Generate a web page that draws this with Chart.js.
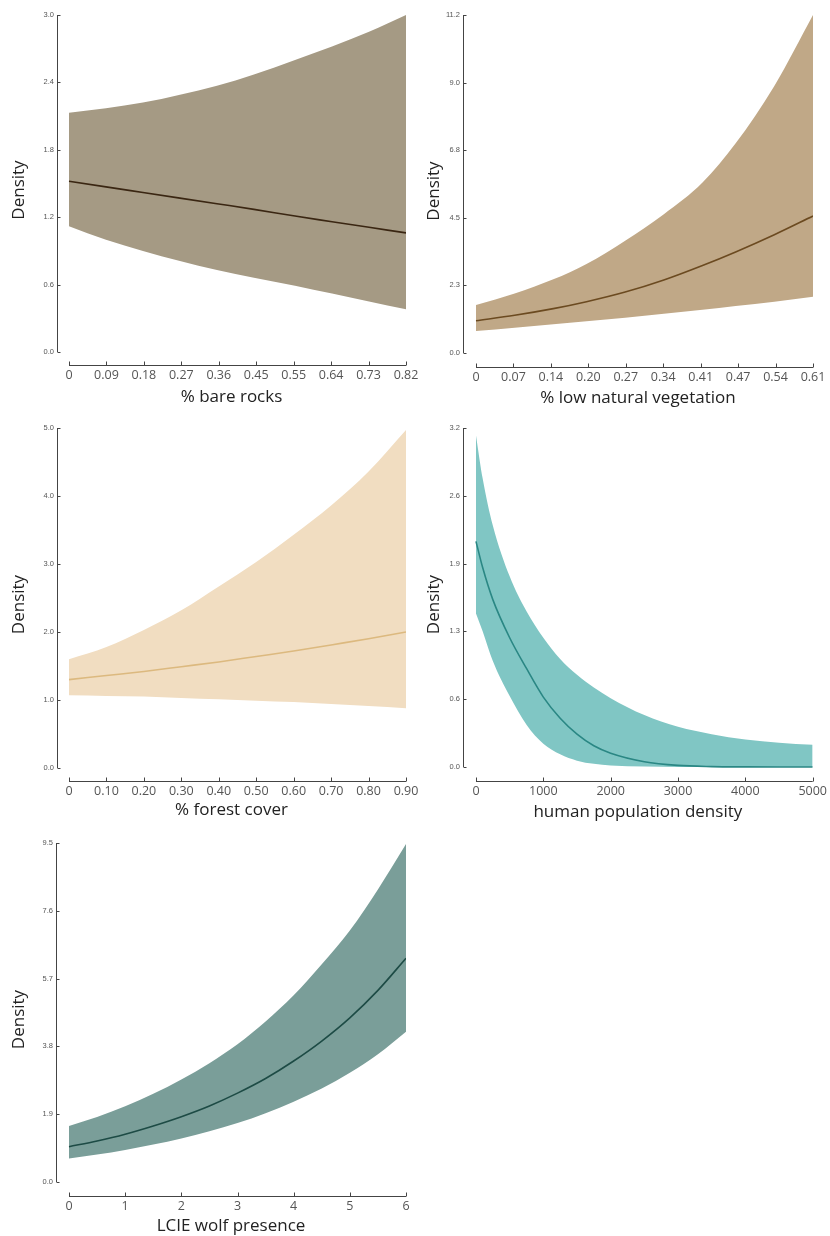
<!DOCTYPE html>
<html>
<head>
<meta charset="utf-8">
<script src="https://cdn.jsdelivr.net/npm/chart.js@4"></script>
<style>
  body { margin: 0; background: #fff; }
  #wrap { position: relative; width: 830px; height: 1236px; overflow: hidden; }
  .panel { position: absolute; }
</style>
</head>
<body>
<div id="wrap">
  <div class="panel" id="p1"><canvas id="c1"></canvas></div>
  <div class="panel" id="p2"><canvas id="c2"></canvas></div>
  <div class="panel" id="p3"><canvas id="c3"></canvas></div>
  <div class="panel" id="p4"><canvas id="c4"></canvas></div>
  <div class="panel" id="p5"><canvas id="c5"></canvas></div>
</div>
<script>
// --- data ---
const rockX = [0, 0.09, 0.18, 0.27, 0.36, 0.45, 0.55, 0.64, 0.73, 0.82];
const rockMean = [1.52, 1.47, 1.42, 1.37, 1.32, 1.27, 1.21, 1.16, 1.11, 1.06];
const rockUpper = [2.13, 2.17, 2.22, 2.29, 2.37, 2.47, 2.60, 2.72, 2.85, 3.0];
const rockLower = [1.12, 1.00, 0.90, 0.81, 0.73, 0.66, 0.59, 0.52, 0.45, 0.38];
const rockXTicks = ['0', '0.09', '0.18', '0.27', '0.36', '0.45', '0.55', '0.64', '0.73', '0.82'];
const rockYTicks = ['0.0', '0.6', '1.2', '1.8', '2.4', '3.0'];

const vegX = [0, 0.07, 0.14, 0.20, 0.27, 0.34, 0.41, 0.47, 0.54, 0.61];
const vegMean = [1.07, 1.25, 1.47, 1.70, 2.02, 2.42, 2.90, 3.35, 3.92, 4.54];
const vegUpper = [1.59, 1.97, 2.44, 2.95, 3.72, 4.60, 5.65, 6.95, 8.85, 11.2];
const vegLower = [0.73, 0.84, 0.95, 1.05, 1.17, 1.30, 1.43, 1.56, 1.70, 1.86];
const vegXTicks = ['0', '0.07', '0.14', '0.20', '0.27', '0.34', '0.41', '0.47', '0.54', '0.61'];
const vegYTicks = ['0.0', '2.3', '4.5', '6.8', '9.0', '11.2'];

const forestX = [0, 0.1, 0.2, 0.3, 0.4, 0.5, 0.6, 0.7, 0.8, 0.9];
const forestMean = [1.30, 1.36, 1.42, 1.49, 1.56, 1.64, 1.72, 1.81, 1.90, 2.0];
const forestUpper = [1.60, 1.78, 2.03, 2.32, 2.67, 3.03, 3.43, 3.86, 4.36, 4.97];
const forestLower = [1.07, 1.06, 1.05, 1.03, 1.01, 0.99, 0.97, 0.94, 0.91, 0.88];
const forestXTicks = ['0', '0.10', '0.20', '0.30', '0.40', '0.50', '0.60', '0.70', '0.80', '0.90'];
const forestYTicks = ['0.0', '1.0', '2.0', '3.0', '4.0', '5.0'];

const popX = [0, 100, 250, 500, 750, 1000, 1250, 1500, 1750, 2000, 2500, 3000, 3500, 4000, 4500, 5000];
const popMean = [2.13, 1.88, 1.58, 1.22, 0.93, 0.66, 0.46, 0.31, 0.2, 0.13, 0.05, 0.015, 0.004, 0.001, 0, 0];
const popUpper = [3.13, 2.72, 2.28, 1.80, 1.47, 1.22, 1.02, 0.87, 0.75, 0.65, 0.49, 0.38, 0.31, 0.26, 0.23, 0.21];
const popLower = [1.45, 1.28, 1.0, 0.67, 0.40, 0.22, 0.12, 0.06, 0.03, 0.015, 0.004, 0, 0, 0, 0, 0];
const popXTicks = ['0', '1000', '2000', '3000', '4000', '5000'];
const popYTicks = ['0.0', '0.6', '1.3', '1.9', '2.6', '3.2'];

const wolfX = [0, 0.5, 1, 1.5, 2, 2.5, 3, 3.5, 4, 4.5, 5, 5.5, 6];
const wolfMean = [0.99, 1.15, 1.34, 1.57, 1.83, 2.13, 2.49, 2.9, 3.39, 3.95, 4.6, 5.37, 6.27];
const wolfUpper = [1.57, 1.82, 2.12, 2.47, 2.87, 3.33, 3.86, 4.5, 5.23, 6.1, 7.05, 8.2, 9.47];
const wolfLower = [0.66, 0.77, 0.9, 1.05, 1.22, 1.42, 1.65, 1.93, 2.25, 2.62, 3.06, 3.58, 4.21];
const wolfXTicks = ['0', '1', '2', '3', '4', '5', '6'];
const wolfYTicks = ['0.0', '1.9', '3.8', '5.7', '7.6', '9.5'];

// axis lines drawn offset from the plot, ticks pointing inward
const offsetAxes = {
  id: 'offsetAxes',
  afterDraw(chart) {
    const { ctx, chartArea, scales: { x, y } } = chart;
    ctx.save();
    ctx.strokeStyle = '#444';
    ctx.lineWidth = 1;
    ctx.beginPath();
    const yb = Math.round(chartArea.bottom) + 0.5;
    const x0 = x.getPixelForValue(x.ticks[0].value);
    const x1 = x.getPixelForValue(x.ticks[x.ticks.length - 1].value);
    ctx.moveTo(x0, yb); ctx.lineTo(x1, yb);
    x.ticks.forEach(t => {
      const px = Math.round(x.getPixelForValue(t.value)) + 0.5;
      ctx.moveTo(px, yb); ctx.lineTo(px, yb - 4);
    });
    const xl = Math.round(chartArea.left) + 0.5;
    ctx.moveTo(xl, y.getPixelForValue(y.ticks[0].value));
    ctx.lineTo(xl, y.getPixelForValue(y.ticks[y.ticks.length - 1].value));
    y.ticks.forEach(t => {
      const py = Math.round(y.getPixelForValue(t.value)) + 0.5;
      ctx.moveTo(xl, py); ctx.lineTo(xl + 3, py);
    });
    ctx.stroke();
    ctx.restore();
  }
};

function pts(xs, ys) { return xs.map((v, i) => ({ x: v, y: ys[i] })); }

// box = canvas placement, area = y-axis x, x-axis y, pixel of (0,0) and (max,max)
function makePanel(id, box, area, d) {
  const holder = document.getElementById('p' + id);
  holder.style.left = box.left + 'px';
  holder.style.top = box.top + 'px';
  holder.style.width = box.width + 'px';
  holder.style.height = box.height + 'px';

  const xMax = d.xMax, yMax = d.yMax;
  const xMin = -xMax * (area.x0 - area.axisX) / (area.xEnd - area.x0);
  const yMin = -yMax * (area.axisY - area.y0) / (area.y0 - area.yEnd);
  const titleFont = { family: 'Open Sans', size: 17 };

  new Chart(document.getElementById('c' + id), {
    type: 'line',
    data: {
      datasets: [
        // mean first so it is drawn last (on top of the band)
        { data: pts(d.x, d.mean), borderWidth: 1.6, pointRadius: 0, fill: false, borderColor: d.line },
        { data: pts(d.x, d.lower), borderWidth: 0, pointRadius: 0, fill: false, backgroundColor: d.band, borderColor: d.band },
        { data: pts(d.x, d.upper), borderWidth: 0, pointRadius: 0, fill: '-1', backgroundColor: d.band, borderColor: d.band }
      ]
    },
    options: {
      responsive: true,
      maintainAspectRatio: false,
      animation: false,
      layout: {
        padding: { top: area.yEnd - box.top, right: box.left + box.width - area.xEnd, left: 0, bottom: 0 }
      },
      elements: { line: { cubicInterpolationMode: 'monotone' } },
      plugins: { legend: { display: false }, tooltip: { enabled: false } },
      scales: {
        x: {
          type: 'linear',
          min: xMin, max: xMax,
          grid: { display: false, drawTicks: false },
          border: { display: false },
          afterFit: s => { s.height = box.top + box.height - area.axisY; },
          afterBuildTicks: s => {
            s.ticks = d.xTicks.map((t, i) => ({ value: xMax * i / (d.xTicks.length - 1) }));
          },
          ticks: {
            autoSkip: false, maxRotation: 0, padding: 3,
            color: '#555', font: { family: 'Open Sans', size: 12.5 },
            callback: (v, i) => d.xTicks[i]
          },
          title: { display: true, text: d.xTitle, color: '#222', font: titleFont, padding: { top: 0, bottom: area.titlePad } }
        },
        y: {
          type: 'linear',
          min: yMin, max: yMax,
          grid: { display: false, drawTicks: false },
          border: { display: false },
          afterFit: s => { s.width = area.axisX - box.left; },
          afterBuildTicks: s => {
            s.ticks = d.yTicks.map((t, i) => ({ value: yMax * i / (d.yTicks.length - 1) }));
          },
          ticks: {
            autoSkip: false, padding: 3,
            color: '#555', font: { family: "'Liberation Sans', Arial, sans-serif", size: 7.5 },
            callback: (v, i) => d.yTicks[i]
          },
          title: { display: true, text: 'Density', color: '#222', font: titleFont, padding: { top: 9, bottom: 0 } }
        }
      }
    },
    plugins: [offsetAxes]
  });
}

makePanel(1, { left: 0, top: 0, width: 432, height: 410 },
  { axisX: 57, axisY: 365, x0: 69, xEnd: 406, y0: 352, yEnd: 15, titlePad: 3 },
  { x: rockX, mean: rockMean, upper: rockUpper, lower: rockLower, xMax: 0.82, yMax: 3.0,
    xTicks: rockXTicks, yTicks: rockYTicks, xTitle: '% bare rocks', band: '#a59a84', line: '#3a2612' });

makePanel(2, { left: 415, top: 0, width: 415, height: 410 },
  { axisX: 463, axisY: 367, x0: 476, xEnd: 813, y0: 353, yEnd: 15, titlePad: 2 },
  { x: vegX, mean: vegMean, upper: vegUpper, lower: vegLower, xMax: 0.61, yMax: 11.2,
    xTicks: vegXTicks, yTicks: vegYTicks, xTitle: '% low natural vegetation', band: '#c0a887', line: '#6b4a20' });

makePanel(3, { left: 0, top: 410, width: 432, height: 416 },
  { axisX: 57, axisY: 781, x0: 69, xEnd: 406, y0: 768, yEnd: 428, titlePad: 6 },
  { x: forestX, mean: forestMean, upper: forestUpper, lower: forestLower, xMax: 0.9, yMax: 5.0,
    xTicks: forestXTicks, yTicks: forestYTicks, xTitle: '% forest cover', band: '#f1ddc1', line: '#dcb97f' });

makePanel(4, { left: 415, top: 410, width: 415, height: 416 },
  { axisX: 463, axisY: 781, x0: 476, xEnd: 813, y0: 767, yEnd: 428, titlePad: 4 },
  { x: popX, mean: popMean, upper: popUpper, lower: popLower, xMax: 5000, yMax: 3.2,
    xTicks: popXTicks, yTicks: popYTicks, xTitle: 'human population density', band: '#80c6c4', line: '#2a8784' });

makePanel(5, { left: 0, top: 820, width: 432, height: 416 },
  { axisX: 56, axisY: 1196, x0: 69, xEnd: 406, y0: 1182, yEnd: 843, titlePad: 0 },
  { x: wolfX, mean: wolfMean, upper: wolfUpper, lower: wolfLower, xMax: 6, yMax: 9.5,
    xTicks: wolfXTicks, yTicks: wolfYTicks, xTitle: 'LCIE wolf presence', band: '#7a9e99', line: '#1d4b45' });
</script>
</body>
</html>
